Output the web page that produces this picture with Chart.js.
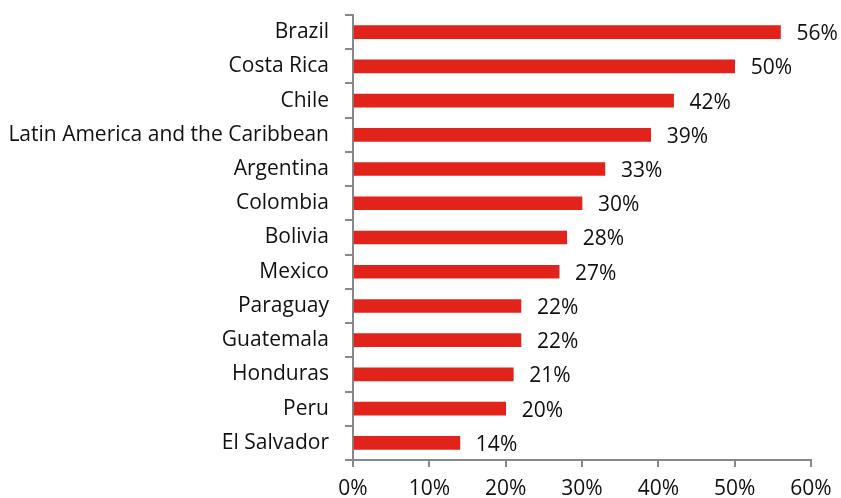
<!DOCTYPE html>
<html>
<head>
<meta charset="utf-8">
<script src="https://cdn.jsdelivr.net/npm/chart.js@4"></script>
<style>
  html, body { margin: 0; padding: 0; background: #fff; }
  #wrap { width: 841px; height: 498px; }
</style>
</head>
<body>
<div id="wrap"><canvas id="barChart" width="841" height="498"></canvas></div>
<script>
// ===== data =====
const countries = [
    "Brazil", "Costa Rica", "Chile", "Latin America and the Caribbean",
    "Argentina", "Colombia", "Bolivia", "Mexico", "Paraguay",
    "Guatemala", "Honduras", "Peru", "El Salvador"
];
const shares = [56, 50, 42, 39, 33, 30, 28, 27, 22, 22, 21, 20, 14];
const xTicks = [0, 10, 20, 30, 40, 50, 60];

const FONT = "'Open Sans', sans-serif";
const FONT_SIZE = 21;
const AXIS_GREY = "#888888";

// value labels to the right of each bar
const valueLabels = {
    id: "valueLabels",
    afterDatasetsDraw(chart) {
        const ctx = chart.ctx;
        const meta = chart.getDatasetMeta(0);
        ctx.save();
        ctx.font = FONT_SIZE + "px " + FONT;
        ctx.fillStyle = "#111";
        ctx.textAlign = "left";
        ctx.textBaseline = "middle";
        meta.data.forEach((bar, i) => {
            ctx.fillText(shares[i] + "%", bar.x + 16, bar.y + 2);
        });
        ctx.restore();
    }
};

const ctx = document.getElementById("barChart");

new Chart(ctx, {
    type: "bar",
    data: {
        labels: countries,
        datasets: [{
            data: shares,
            backgroundColor: "#e2231c",
            barThickness: 13
        }]
    },
    options: {
        indexAxis: "y",
        responsive: false,
        animation: false,
        layout: { padding: { top: 15, right: 30, left: 0, bottom: 0 } },
        plugins: {
            legend: { display: false },
            tooltip: { enabled: false }
        },
        scales: {
            x: {
                min: 0,
                max: 60,
                afterBuildTicks: (axis) => { axis.ticks = xTicks.map(v => ({ value: v })); },
                afterFit: (axis) => { axis.height = 38; },
                border: { color: AXIS_GREY, width: 2 },
                grid: { drawOnChartArea: false, drawTicks: true, tickLength: 7, color: AXIS_GREY, lineWidth: 2 },
                ticks: {
                    color: "#111",
                    font: { family: FONT, size: FONT_SIZE },
                    padding: 9,
                    maxRotation: 0,
                    callback: (v) => v + "%"
                }
            },
            y: {
                afterFit: (axis) => {
                    axis.width = 353;
                    axis.paddingTop = 0;
                    axis.paddingBottom = 0;
                },
                border: { color: AXIS_GREY, width: 2 },
                grid: { drawOnChartArea: false, drawTicks: true, tickLength: 8, color: AXIS_GREY, lineWidth: 2, offset: true },
                ticks: {
                    color: "#111",
                    font: { family: FONT, size: FONT_SIZE },
                    padding: 16
                }
            }
        }
    },
    plugins: [valueLabels]
});
</script>
</body>
</html>
